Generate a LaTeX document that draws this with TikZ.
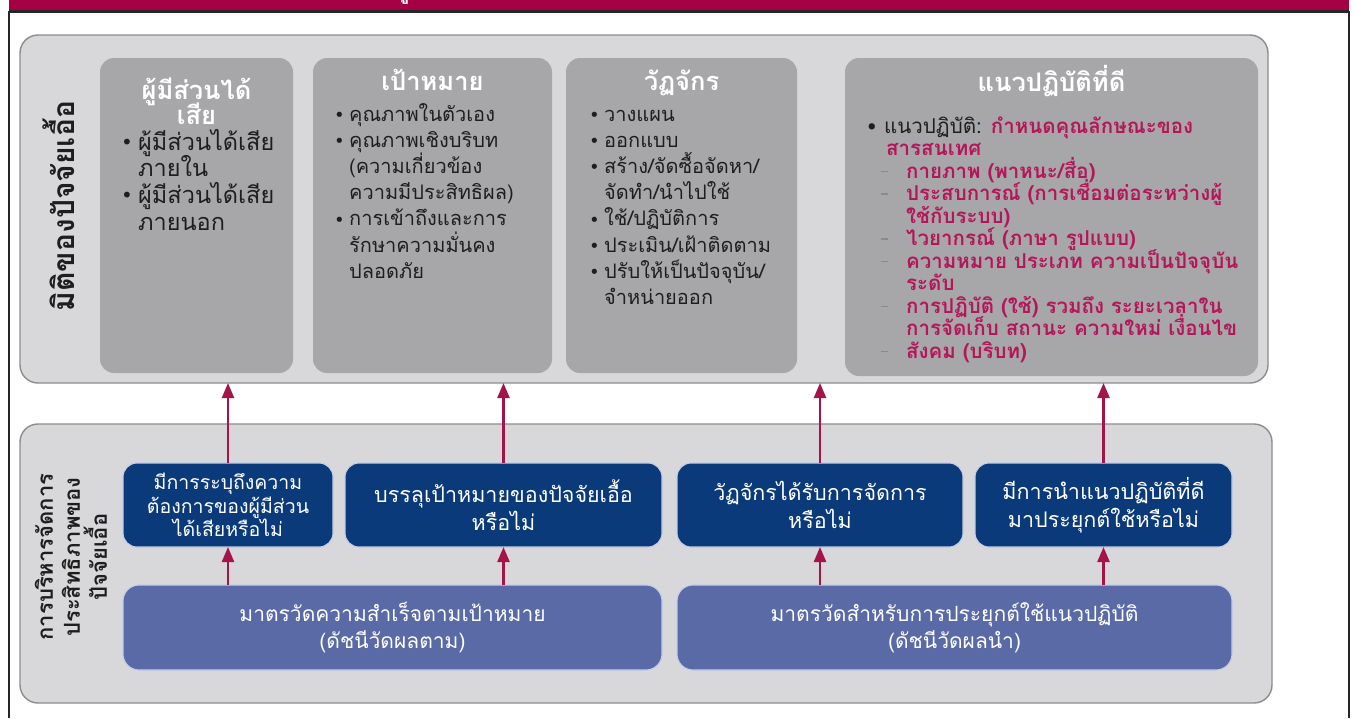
\documentclass[tikz,border=0pt]{standalone}
\usepackage{fontspec}
\setmainfont{Loma}[Script=Thai]
\newfontfamily\symfont{DejaVu Sans}
\usetikzlibrary{arrows.meta}

\definecolor{barmaroon}{HTML}{A60045}
\definecolor{framedark}{HTML}{262626}
\definecolor{panelfill}{HTML}{D8D8DA}
\definecolor{panelline}{HTML}{8C8C8C}
\definecolor{facetgray}{HTML}{A7A7AA}
\definecolor{navy}{HTML}{0B3A7A}
\definecolor{navyedge}{HTML}{C4CDE6}
\definecolor{measureblue}{HTML}{5A6AA6}
\definecolor{ink}{HTML}{1E1E1E}
\definecolor{crimsontext}{HTML}{B5165A}
\definecolor{arrowred}{HTML}{A3144B}
\definecolor{dashgray}{HTML}{8A8A8A}

% bullets and indents for the list lines
\newcommand\listdot[1]{{\symfont\fontsize{#1}{#1}\selectfont •}}
\newcommand\bul{\makebox[15pt][l]{\raisebox{-0.5pt}{\listdot{18}}}}
\newcommand\bigbul{\makebox[17pt][l]{\raisebox{0.5pt}{\listdot{20}}}}
\newcommand\ind{\hspace*{15pt}}
\newcommand\bigind{\hspace*{17pt}}
\newcommand\subdash{\hspace*{15pt}\makebox[25pt][l]{\textcolor{dashgray}{\rule[6pt]{7pt}{1.3pt}}}}
\newcommand\subind{\hspace*{40pt}}

% rounded box given by its corners (pixel coordinates, y downwards)
\newcommand\areanode[7]{%
  \node[#2, minimum width={(#5)-(#3)}, minimum height={(#6)-(#4)}]
    (#1) at ({((#3)+(#5))/2},{((#4)+(#6))/2}) {#7};}

\begin{document}
\begin{tikzpicture}[x=1pt, y=-1pt,
  panel/.style={draw=panelline, line width=1.4pt, fill=panelfill,
    rounded corners=18pt, inner sep=0pt, outer sep=0pt},
  facet/.style={fill=facetgray, rounded corners=14pt, inner sep=0pt, outer sep=0pt},
  question/.style={fill=navy, draw=navyedge, line width=1.1pt, rounded corners=14pt,
    inner sep=0pt, outer sep=0pt, text=white, align=center,
    font=\fontsize{21.5}{28}\selectfont},
  measure/.style={fill=measureblue, draw=navyedge, line width=1.1pt, rounded corners=16pt,
    inner sep=0pt, outer sep=0pt, text=white, align=center,
    font=\fontsize{21}{27}\selectfont},
  flow/.style={draw=arrowred, line width=2.4pt, -{Triangle[length=15pt,width=12pt]}},
  facettitle/.style={text=white, anchor=base, inner sep=0pt,
    font=\fontsize{25.5}{26}\selectfont\bfseries},
  body/.style={text=ink, anchor=base west, inner sep=0pt,
    font=\fontsize{20}{26}\selectfont},
  practice/.style={text=crimsontext, anchor=base west, inner sep=0pt,
    font=\fontsize{20.5}{22}\selectfont\bfseries},
  sidelabel/.style={rotate=90, anchor=center, inner sep=0pt, text=ink, align=center},
  framerule/.style={draw=framedark, line width=2.2pt}
]
\useasboundingbox (0,0) rectangle (1356,718);
\fill[white] (0,0) rectangle (1356,718);

% title bar and frame
\fill[barmaroon] (9,0) rectangle (1349,10.5);
\begin{scope}
  \clip (9,0) rectangle (1349,10.5);
  \node[text=white, anchor=base, inner sep=0pt,
    font=\fontsize{20}{20}\selectfont\bfseries] (titlefrag) at (403,-1) {ปู};
\end{scope}
\draw[framerule] (9,11.5) -- (1349,11.5);
\draw[framerule] (9,10.5) -- (9,718);
\draw[framerule] (1349,10.5) -- (1349,718);

% ---------- upper panel: dimensions of the enabler ----------
\areanode{dims}{panel}{20}{35}{1268}{383}{}
\areanode{stake}{facet}{100}{58}{293}{373}{}
\areanode{goal}{facet}{313}{58}{552}{373}{}
\areanode{cycle}{facet}{566}{58}{797}{373}{}
\areanode{pract}{facet}{845}{58}{1258}{376}{}

\node[sidelabel, font=\fontsize{30}{34}\selectfont\bfseries] (dimsLabel) at (59,206)
  {มิติของปัจจัยเอื้อ};

\node[facettitle] (stakeT1) at (196.5,99) {ผู้มีส่วนได้};
\node[facettitle] (stakeT2) at (196.5,124) {เสีย};
\node[facettitle] (goalT) at (432.5,90) {เป้าหมาย};
\node[facettitle] (cycleT) at (681.5,90) {วัฏจักร};
\node[facettitle] (practT) at (1051.5,91) {แนวปฏิบัติที่ดี};

\foreach \t [count=\i from 0] in {%
  {\bigbul ผู้มีส่วนได้เสีย},{\bigind ภายใน},{\bigbul ผู้มีส่วนได้เสีย},{\bigind ภายนอก}}
  \node[body, font=\fontsize{23.5}{26}\selectfont] (stake-\i) at (121,{150+26.7*\i}) {\t};

\foreach \t [count=\i from 0] in {%
  {\bul คุณภาพในตัวเอง},{\bul คุณภาพเชิงบริบท},{\ind (ความเกี่ยวข้อง},
  {\ind ความมีประสิทธิผล)},{\bul การเข้าถึงและการ},{\ind รักษาความมั่นคง},
  {\ind ปลอดภัย}}
  \node[body] (goal-\i) at (334,{121+26.2*\i}) {\t};

\foreach \t [count=\i from 0] in {%
  {\bul วางแผน},{\bul ออกแบบ},{\bul สร้าง/จัดซื้อจัดหา/},{\ind จัดทำ/นำไปใช้},
  {\bul ใช้/ปฏิบัติการ},{\bul ประเมิน/เฝ้าติดตาม},{\bul ปรับให้เป็นปัจจุบัน/},
  {\ind จำหน่ายออก}}
  \node[body] (cycle-\i) at (589,{121+26.2*\i}) {\t};

\foreach \t [count=\i from 0] in {%
  {\makebox[18pt][l]{\textcolor{ink}{\raisebox{-0.5pt}{\listdot{18}}}}\textcolor{ink}{\mdseries แนวปฏิบัติ:} กำหนดคุณลักษณะของ},
  {\hspace*{20pt}สารสนเทศ},
  {\subdash กายภาพ (พาหนะ/สื่อ)},
  {\subdash ประสบการณ์ (การเชื่อมต่อระหว่างผู้},
  {\subind ใช้กับระบบ)},
  {\subdash ไวยากรณ์ (ภาษา รูปแบบ)},
  {\subdash ความหมาย ประเภท ความเป็นปัจจุบัน},
  {\subind ระดับ},
  {\subdash การปฏิบัติ (ใช้) รวมถึง ระยะเวลาใน},
  {\subind การจัดเก็บ สถานะ ความใหม่ เงื่อนไข},
  {\subdash สังคม (บริบท)}}
  \node[practice] (pract-\i) at (866,{133+22.5*\i}) {\t};

% ---------- lower panel: managing enabler performance ----------
\areanode{mgmt}{panel}{20}{424}{1272}{703}{}

\node[sidelabel, font=\fontsize{22}{27}\selectfont\bfseries] (mgmtLabel) at (71,557)
  {การบริหารจัดการ\\ประสิทธิภาพของ\\ปัจจัยเอื้อ};

\areanode{q1}{question, font=\fontsize{19.5}{23.5}\selectfont}{123}{463}{333}{547}
  {มีการระบุถึงความ\\ต้องการของผู้มีส่วน\\ได้เสียหรือไม่}
\areanode{q2}{question}{345}{463}{662}{547}{บรรลุเป้าหมายของปัจจัยเอื้อ\\หรือไม่}
\areanode{q3}{question}{677}{463}{963}{547}{วัฏจักรได้รับการจัดการ\\หรือไม่}
\areanode{q4}{question}{975}{463}{1232}{547}{มีการนำแนวปฏิบัติที่ดี\\มาประยุกต์ใช้หรือไม่}

\areanode{m1}{measure}{123}{585}{662}{670}{มาตรวัดความสำเร็จตามเป้าหมาย\\(ดัชนีวัดผลตาม)}
\areanode{m2}{measure}{677}{585}{1232}{670}{มาตรวัดสำหรับการประยุกต์ใช้แนวปฏิบัติ\\(ดัชนีวัดผลนำ)}

% ---------- connectors ----------
\foreach \q in {q1,q2,q3,q4}
  \draw[flow] (\q.north) -- (\q.north |- dims.south);
\draw[flow] (q1.south |- m1.north) -- (q1.south);
\draw[flow] (q2.south |- m1.north) -- (q2.south);
\draw[flow] (q3.south |- m2.north) -- (q3.south);
\draw[flow] (q4.south |- m2.north) -- (q4.south);
\end{tikzpicture}
\end{document}
